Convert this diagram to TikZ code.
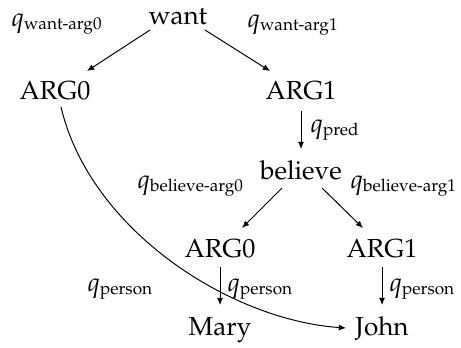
\documentclass[tikz,border=0pt]{standalone}
\usepackage[T1]{fontenc}
\usepackage{mathpazo}
\usepackage{amsmath}
\usetikzlibrary{arrows.meta}
\newcommand\qsub[1]{$q_{\mbox{\fontsize{7.9}{8}\selectfont #1}}$}
\begin{document}
\begin{tikzpicture}[x=0.46pt,y=-0.46pt,
  word/.style={inner sep=0pt,anchor=base,font=\fontsize{12}{14}\selectfont},
  lab/.style={inner sep=0pt,anchor=base west,font=\fontsize{12}{14}\selectfont},
  edge/.style={-{Latex[length=3.3pt,width=2.8pt]},line width=0.45pt}]
\useasboundingbox (0,0) rectangle (461,347);
\node[word] (want) at (178,24) {want};
\node[word] (a0) at (55,99) {ARG0};
\node[word] (a1) at (301,99) {ARG1};
\node[word] (bel) at (301,179) {believe};
\node[word] (b0) at (220,257) {ARG0};
\node[word] (b1) at (382,257) {ARG1};
\node[word] (mary) at (220,335) {Mary};
\node[word] (john) at (382,335) {John};
\node[lab] (l1) at (11,26) {\qsub{want-arg0}};
\node[lab] (l2) at (247,27) {\qsub{want-arg1}};
\node[lab] (l3) at (310,132) {\qsub{pred}};
\node[lab] (l4) at (137,188) {\qsub{believe-arg0}};
\node[lab] (l5) at (350,188) {\qsub{believe-arg1}};
\node[lab] (l6) at (87,291) {\qsub{person}};
\node[lab] (l7) at (227,291) {\qsub{person}};
\node[lab] (l8) at (389,291) {\qsub{person}};
\draw[edge] ([shift={(-28,6)}]want.base) -- ([shift={(32,-28)}]a0.base);
\draw[edge] ([shift={(27,6)}]want.base) -- ([shift={(-31,-28)}]a1.base);
\draw[edge] ([shift={(0,12)}]a1.base) -- ([shift={(0,-30)}]bel.base);
\draw[edge] ([shift={(-19,9)}]bel.base) -- ([shift={(22,-29)}]b0.base);
\draw[edge] ([shift={(21,9)}]bel.base) -- ([shift={(-19,-29)}]b1.base);
\draw[edge] ([shift={(0,10)}]b0.base) -- ([shift={(0,-30)}]mary.base);
\draw[edge] ([shift={(0,10)}]b1.base) -- ([shift={(0,-30)}]john.base);
\draw[edge] ([shift={(6,8)}]a0.base) .. controls (90,230) and (230,320) .. ([shift={(-36,-7)}]john.base);
\end{tikzpicture}
\end{document}
